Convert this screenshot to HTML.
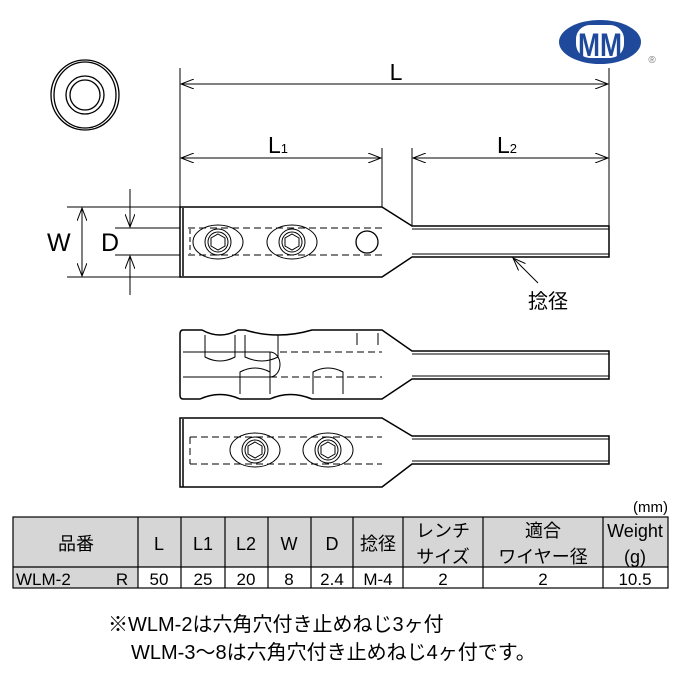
<!DOCTYPE html>
<html><head><meta charset="utf-8"><style>
body{margin:0;background:#fff;}
svg{display:block;font-family:"Liberation Sans","Noto Sans CJK JP",sans-serif;}
</style></head><body>
<svg width="680" height="680" viewBox="0 0 680 680" xmlns="http://www.w3.org/2000/svg">
<defs>
<marker id="a" markerWidth="14" markerHeight="10" refX="13" refY="5" orient="auto-start-reverse" markerUnits="userSpaceOnUse">
<path d="M0,0 L13,5 L0,10" fill="none" stroke="#000" stroke-width="1"/></marker>
</defs>
<rect width="680" height="680" fill="#fff"/>
<!-- logo -->
<ellipse cx="600" cy="42" rx="41" ry="22" fill="#1f4a9c"/>
<rect x="576" y="25" width="48" height="33" rx="14" fill="#fff"/>
<text x="600" y="56" font-size="32" font-weight="bold" text-anchor="middle" fill="#1f4a9c" textLength="44" lengthAdjust="spacingAndGlyphs">MM</text>
<text x="652" y="63" font-size="10" fill="#777" text-anchor="middle">®</text>
<!-- end view -->
<g fill="none" stroke="#000" stroke-width="1.3">
<ellipse cx="85" cy="95" rx="34" ry="35"/><ellipse cx="85" cy="95" rx="31" ry="33"/>
<circle cx="85" cy="95" r="19"/><circle cx="85" cy="95" r="15"/>
</g>
<g stroke="#000" stroke-width="1" fill="none">
<line x1="180" y1="68" x2="180" y2="210"/>
<line x1="609" y1="68" x2="609" y2="226"/>
<line x1="382" y1="148" x2="382" y2="207"/>
<line x1="412" y1="148" x2="412" y2="226"/>
<line x1="181" y1="84" x2="608" y2="84" marker-start="url(#a)" marker-end="url(#a)"/>
<line x1="181" y1="158" x2="381" y2="158" marker-start="url(#a)" marker-end="url(#a)"/>
<line x1="413" y1="158" x2="608" y2="158" marker-start="url(#a)" marker-end="url(#a)"/>
<line x1="67" y1="207" x2="180" y2="207"/><line x1="67" y1="277" x2="180" y2="277"/>
<line x1="82" y1="208" x2="82" y2="276" marker-start="url(#a)" marker-end="url(#a)"/>
<line x1="115" y1="228" x2="180" y2="228"/><line x1="115" y1="255" x2="180" y2="255"/>
<line x1="130" y1="189" x2="130" y2="227" marker-end="url(#a)"/>
<line x1="130" y1="295" x2="130" y2="256" marker-end="url(#a)"/>
<line x1="538" y1="283" x2="513" y2="258" marker-end="url(#a)"/>
</g>
<g font-size="23" fill="#000">
<text x="396" y="80" text-anchor="middle">L</text>
<text x="268" y="153">L<tspan font-size="13">1</tspan></text>
<text x="497" y="153">L<tspan font-size="13">2</tspan></text>
<text x="47" y="251" font-size="25">W</text>
<text x="101" y="251" font-size="25">D</text>
<text x="528" y="308" font-size="20">捻径</text>
</g>
<!-- body 1 -->
<g stroke="#000" stroke-width="1.5" fill="none">
<path d="M180,207 H382 L412,226 H609 V257 H412 L382,277 H180 Z"/>
<line x1="183" y1="208" x2="183" y2="276"/>
<line x1="412" y1="229" x2="609" y2="229" stroke-width="1"/>
<line x1="412" y1="254" x2="609" y2="254" stroke-width="1"/>
</g>
<g stroke="#000" stroke-width="1" fill="none">
<path d="M188,228 H382 M188,255 H382" stroke-dasharray="7,4"/>
<path d="M190,229 V254" stroke-dasharray="5,3"/>
<ellipse cx="218" cy="242" rx="25" ry="17"/><circle cx="218" cy="242" r="13"/><circle cx="218" cy="242" r="10"/>
<polygon points="218,234 225,238 225,246 218,250 211,246 211,238"/>
<ellipse cx="292" cy="242" rx="25" ry="17"/><circle cx="292" cy="242" r="13"/><circle cx="292" cy="242" r="10"/>
<polygon points="292,234 299,238 299,246 292,250 285,246 285,238"/>
<circle cx="367" cy="242" r="11" stroke-width="1.3"/>
</g>
<!-- body 2 -->
<g stroke="#000" stroke-width="1.5" fill="none">
<path d="M183,330 H202 Q220,340 238,330 H245 Q278,340 312,330 H382 L412,351 H609 V379 H412 L382,399 H312 Q290,390 270,399 H240 Q220,390 200,399 H183 Q180,399 180,395 V334 Q180,330 183,330 Z"/>
<line x1="412" y1="354" x2="609" y2="354" stroke-width="1"/>
<line x1="412" y1="376" x2="609" y2="376" stroke-width="1"/>
</g>
<g stroke="#000" stroke-width="1" fill="none">
<path d="M183,352 H270 M183,377 H270 M270,352 V377 M270,352 A10,12.5 0 0 1 270,377"/>
<path d="M280,352 H382 M270,377 H382" stroke-dasharray="7,4"/>
<path d="M205,335 V357 Q220,365 235,357 V335 M245,335 V357 Q262,365 278,357 V335"/>
<path d="M240,394 V372 Q255,364 270,372 V394 M313,394 V372 Q328,364 343,372 V394"/>
<path d="M357,333 V345 M378,333 V345"/>
</g>
<!-- body 3 -->
<g stroke="#000" stroke-width="1.5" fill="none">
<path d="M180,418 H382 L412,436 H609 V464 H412 L382,487 H180 Z"/>
<line x1="183" y1="419" x2="183" y2="487"/>
<line x1="412" y1="439" x2="609" y2="439" stroke-width="1"/>
<line x1="412" y1="461" x2="609" y2="461" stroke-width="1"/>
</g>
<g stroke="#000" stroke-width="1" fill="none">
<path d="M190,437 H382 M190,464 H382 M190,437 V464" stroke-dasharray="7,4"/>
<ellipse cx="255" cy="450" rx="25" ry="17"/><circle cx="255" cy="450" r="13"/><circle cx="255" cy="450" r="10"/>
<polygon points="255,442 262,446 262,454 255,458 248,454 248,446"/>
<ellipse cx="328" cy="450" rx="25" ry="17"/><circle cx="328" cy="450" r="13"/><circle cx="328" cy="450" r="10"/>
<polygon points="328,442 335,446 335,454 328,458 321,454 321,446"/>
</g>
<!-- table -->
<text x="668" y="512" font-size="15" text-anchor="end">(mm)</text>
<rect x="13" y="517" width="125" height="71" fill="#d6d6d6"/>
<rect x="138" y="517" width="530" height="50" fill="#d6d6d6"/>
<g stroke="#000" stroke-width="1.2" fill="none">
<rect x="13" y="517" width="655" height="71"/>
<line x1="13" y1="567" x2="668" y2="567"/>
<path d="M138,517V588M181,517V588M225,517V588M268,517V588M311,517V588M353,517V588M403,517V588M483,517V588M603,517V588"/>
</g>
<g font-size="18" text-anchor="middle" fill="#000">
<text x="76" y="550">品番</text>
<text x="159" y="550">L</text><text x="203" y="550">L1</text><text x="246" y="550">L2</text>
<text x="289" y="550">W</text><text x="332" y="550">D</text><text x="378" y="550">捻径</text>
<text x="443" y="537">レンチ</text><text x="443" y="563">サイズ</text>
<text x="543" y="537">適合</text><text x="543" y="563">ワイヤー径</text>
<text x="635" y="537">Weight</text><text x="635" y="563">(g)</text>
</g>
<g font-size="17" fill="#000" text-anchor="middle">
<text x="16" y="585" text-anchor="start">WLM-2</text><text x="122" y="585">R</text>
<text x="159" y="585">50</text><text x="203" y="585">25</text><text x="246" y="585">20</text>
<text x="289" y="585">8</text><text x="332" y="585">2.4</text><text x="378" y="585">M-4</text>
<text x="443" y="585">2</text><text x="543" y="585">2</text><text x="635" y="585">10.5</text>
</g>
<g font-size="20" fill="#000">
<text x="108" y="631">※WLM-2は六角穴付き止めねじ3ヶ付</text>
<text x="131" y="659">WLM-3～8は六角穴付き止めねじ4ヶ付です。</text>
</g>
</svg>
</body></html>
